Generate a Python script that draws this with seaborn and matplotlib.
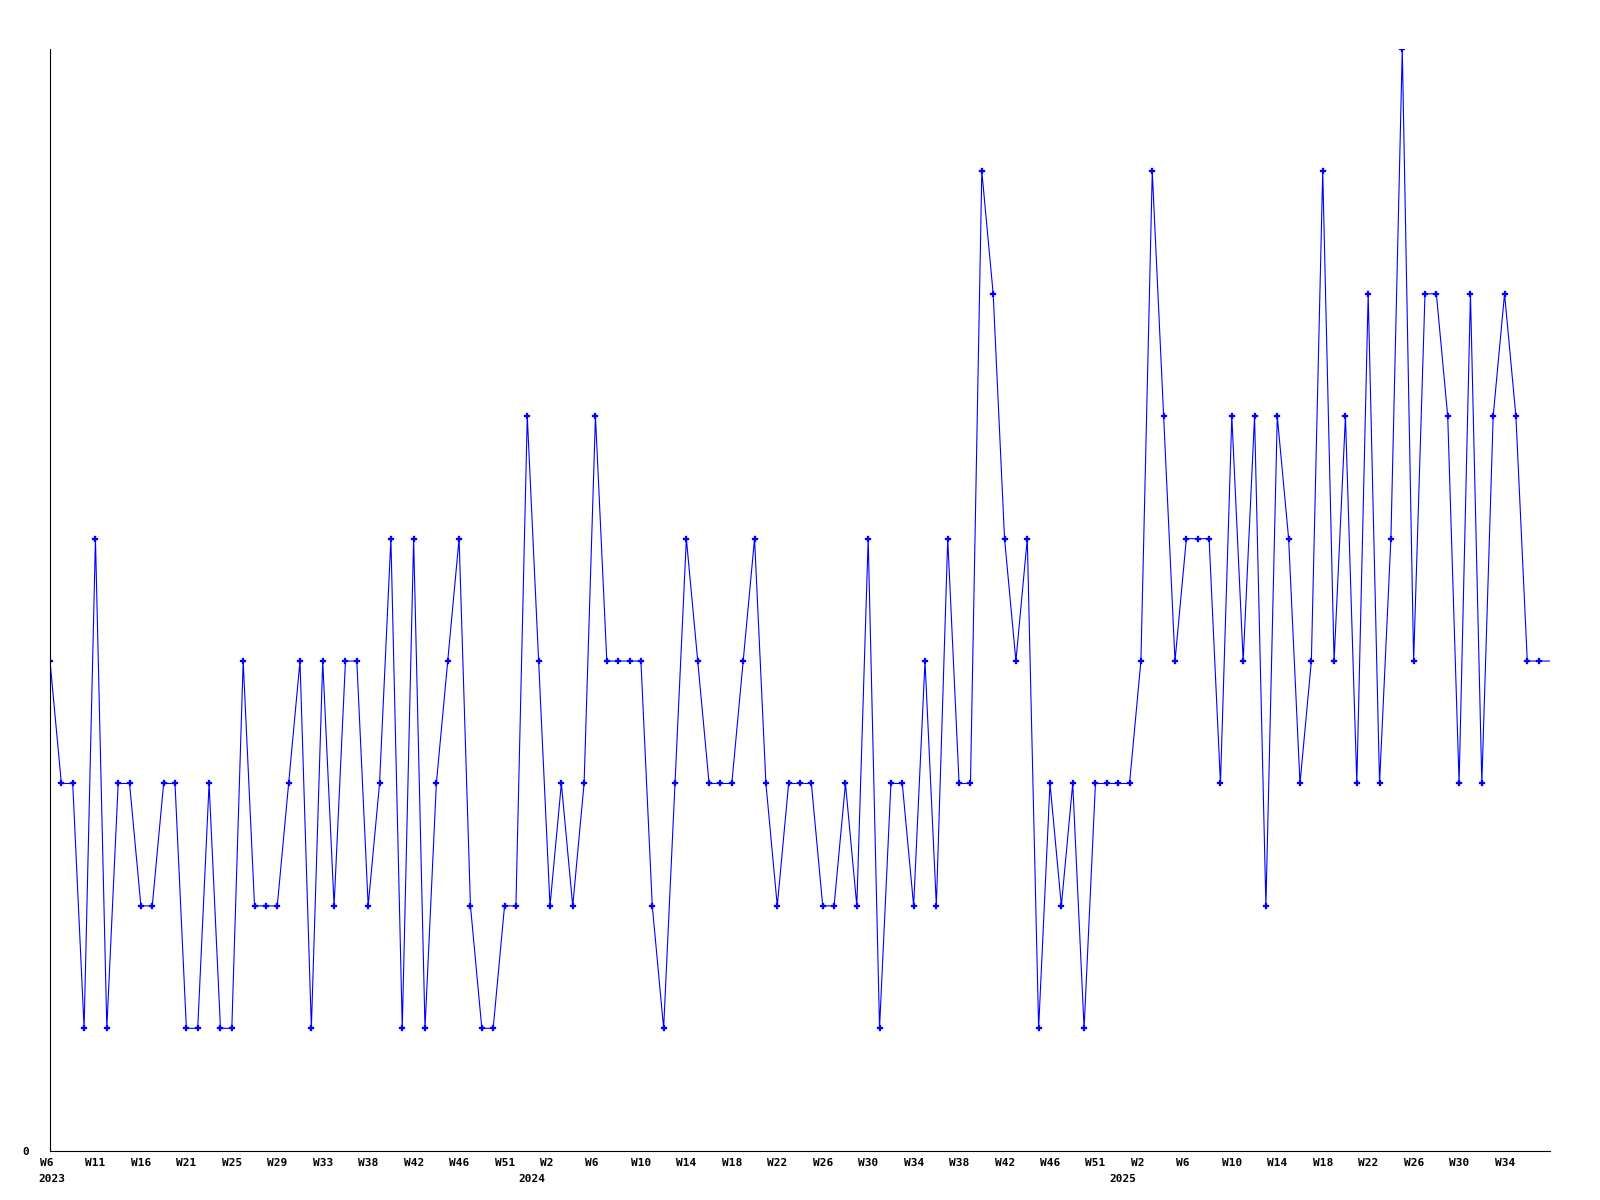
import numpy as np
import pandas as pd
import matplotlib
matplotlib.use("Agg")
import matplotlib.pyplot as plt
import matplotlib.transforms as mtransforms
import seaborn as sns

# weekly counts, 2023 W6 onwards (last value = current, partial week)
values = [4, 3, 3, 1, 5, 1, 3, 3, 2, 2,
          3, 3, 1, 1, 3, 1, 1, 4, 2, 2,
          2, 3, 4, 1, 4, 2, 4, 4, 2, 3,
          5, 1, 5, 1, 3, 4, 5, 2, 1, 1,
          2, 2, 6, 4, 2, 3, 2, 3, 6, 4,
          4, 4, 4, 2, 1, 3, 5, 4, 3, 3,
          3, 4, 5, 3, 2, 3, 3, 3, 2, 2,
          3, 2, 5, 1, 3, 3, 2, 4, 2, 5,
          3, 3, 8, 7, 5, 4, 5, 1, 3, 2,
          3, 1, 3, 3, 3, 3, 4, 8, 6, 4,
          5, 5, 5, 3, 6, 4, 6, 2, 6, 5,
          3, 4, 8, 4, 6, 3, 7, 3, 5, 9,
          4, 7, 7, 6, 3, 7, 3, 6, 7, 6,
          4, 4, 4]
weeks = list(range(len(values)))

tick_labels = ["W6", "W11", "W16", "W21", "W25", "W29", "W33", "W38", "W42", "W46", "W51",
               "W2", "W6", "W10", "W14", "W18", "W22", "W26", "W30", "W34", "W38", "W42", "W46", "W51",
               "W2", "W6", "W10", "W14", "W18", "W22", "W26", "W30", "W34"]
year_labels = ["2023", "2024", "2025"]
year_tick_idx = [0, 11, 24]
y_tick_labels = ["0"]

sns.set_style("white")
plt.rcParams["font.family"] = ["DejaVu Sans Mono", "DejaVu Sans"]

W, H = 1600, 1200
fig = plt.figure(figsize=(W / 100, H / 100), dpi=100)
fig.patch.set_facecolor("white")
ax = fig.add_axes([50 / W, 49.3 / H, 1500 / W, 1101.7 / H])
ax.set_facecolor("white")

df = pd.DataFrame({"week": weeks, "count": values})
sns.lineplot(data=df, x="week", y="count", ax=ax, color="#0000FF",
             linewidth=0.8, marker="P", markersize=4,
             markeredgecolor="#0000FF", markeredgewidth=0.2,
             markevery=list(range(len(values) - 1)), errorbar=None)

ax.set_xlim(0, len(values) - 1)
ax.set_ylim(0, max(values))

for s in ["top", "right"]:
    ax.spines[s].set_visible(False)
for s in ["left", "bottom"]:
    ax.spines[s].set_color("black")
    ax.spines[s].set_linewidth(0.8)

ticks = np.arange(0, len(values) - 1, 4)
ax.set_xticks(ticks)
ax.set_xticklabels(tick_labels, fontsize=8, fontweight="bold", ha="left")
ax.tick_params(axis="x", length=0, pad=5.5, colors="black")
offset = mtransforms.ScaledTranslation(-10 / 100, 0, fig.dpi_scale_trans)
for lab in ax.get_xticklabels():
    lab.set_transform(lab.get_transform() + offset)

ax.set_yticks([0])
ax.set_yticklabels(y_tick_labels, fontsize=8, fontweight="bold")
ax.tick_params(axis="y", length=0, pad=15, colors="black")

ax.set_xlabel("")
ax.set_ylabel("")
ax.grid(False)

for i, (yl, ti) in enumerate(zip(year_labels, year_tick_idx)):
    if i == 0:
        dx, ha = -12, "left"
    else:
        dx, ha = -5, "right"
    ax.annotate(yl, xy=(ticks[ti], 0), xycoords=("data", "axes fraction"),
                xytext=(dx, -23), textcoords="offset pixels",
                ha=ha, va="top", fontsize=8, fontweight="bold", color="black")

fig.savefig("out.png", dpi=100)
